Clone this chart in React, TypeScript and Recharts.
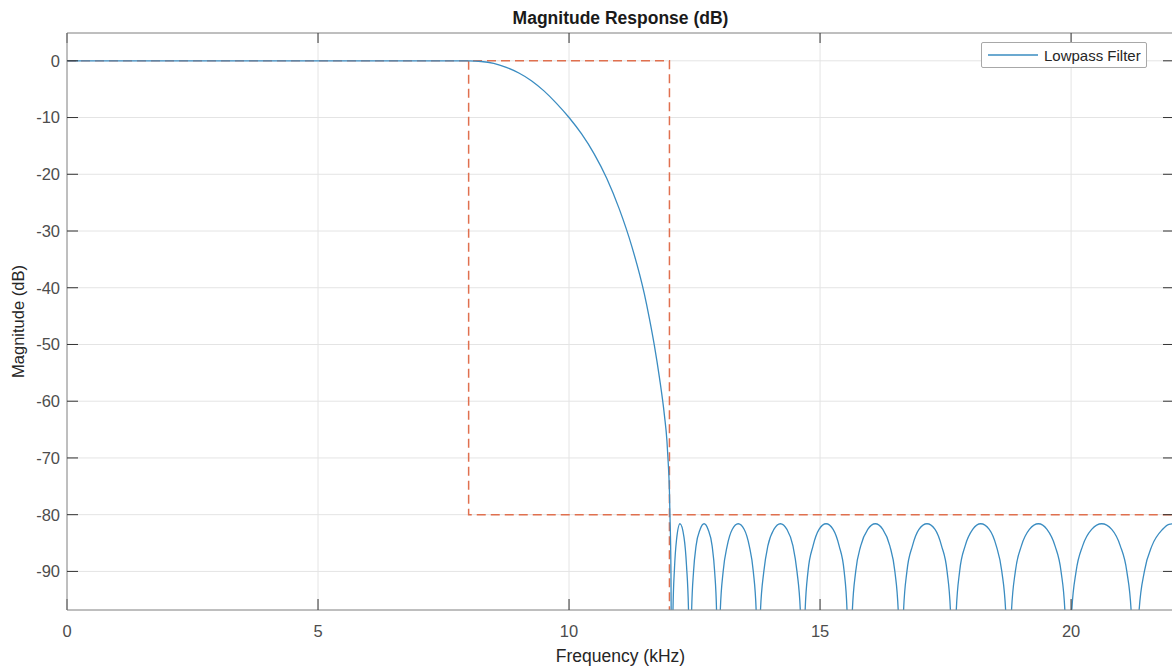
import { LineChart, Line, XAxis, YAxis, CartesianGrid, Legend } from 'recharts'

// passband + transition band (kHz, dB)
const passFreq = [0, 2, 4, 6, 7, 7.6, 8, 8.25, 8.5, 8.75, 9, 9.25, 9.5, 9.75, 10, 10.25, 10.5, 10.75, 11, 11.25, 11.5, 11.6, 11.7, 11.8, 11.9, 11.95, 11.97, 12, 12.01, 12.03, 12.05]
const passDb = [0, 0, 0, 0, 0, -0.01, -0.03, -0.12, -0.45, -1.15, -2.15, -3.5, -5.3, -7.5, -10, -12.9, -16.4, -20.7, -26.1, -32.7, -41.1, -45.4, -50.2, -55.8, -62.5, -67, -70, -76, -80, -90, -125]

// stopband lobes (zeros go off the bottom of the axes)
const stopFreq = [
  12.07, 12.1, 12.14, 12.21, 12.29, 12.34, 12.38, 12.41,
  12.44, 12.48, 12.53, 12.61, 12.69, 12.77, 12.85, 12.9, 12.94, 12.97,
  13.01, 13.07, 13.15, 13.25, 13.37, 13.49, 13.59, 13.67, 13.73, 13.77,
  13.81, 13.88, 13.96, 14.08, 14.21, 14.34, 14.46, 14.54, 14.61, 14.65,
  14.7, 14.76, 14.86, 14.98, 15.12, 15.26, 15.38, 15.48, 15.54, 15.59,
  15.64, 15.71, 15.81, 15.95, 16.1, 16.25, 16.39, 16.49, 16.56, 16.61,
  16.66, 16.73, 16.84, 16.97, 17.13, 17.29, 17.42, 17.53, 17.6, 17.65,
  17.71, 17.78, 17.89, 18.04, 18.2, 18.37, 18.51, 18.62, 18.7, 18.75,
  18.81, 18.89, 19.01, 19.17, 19.35, 19.52, 19.68, 19.8, 19.88, 19.94,
  20.01, 20.1, 20.23, 20.41, 20.61, 20.81, 20.98, 21.11, 21.2, 21.27,
  21.35, 21.46, 21.61, 21.82, 21.95, 22.05,
]
const stopDb = [
  -97, -89.5, -84.5, -81.6, -84, -89, -97, -125,
  -97.5, -90, -85.5, -82.6, -81.6, -82.6, -85.5, -90, -97.5, -125,
  -97.5, -90, -85.5, -82.6, -81.6, -82.6, -85.5, -90, -97.5, -125,
  -97.5, -90, -85.5, -82.6, -81.6, -82.6, -85.5, -90, -97.5, -125,
  -97.5, -90, -85.5, -82.6, -81.6, -82.6, -85.5, -90, -97.5, -125,
  -97.5, -90, -85.5, -82.6, -81.6, -82.6, -85.5, -90, -97.5, -125,
  -97.5, -90, -85.5, -82.6, -81.6, -82.6, -85.5, -90, -97.5, -125,
  -97.5, -90, -85.5, -82.6, -81.6, -82.6, -85.5, -90, -97.5, -125,
  -97.5, -90, -85.5, -82.6, -81.6, -82.6, -85.5, -90, -97.5, -125,
  -97.5, -90, -85.5, -82.6, -81.6, -82.6, -85.5, -90, -97.5, -125,
  -97.5, -90, -85.5, -82.6, -81.7, -81.6,
]

// spec mask (dashed)
const maskUpperFreq = [0, 12, 12]
const maskUpperDb = [0, 0, -120]
const maskLowerFreq = [8, 8, 22.05]
const maskLowerDb = [0, -80, -80]

const xTicks = [0, 5, 10, 15, 20]
const yTicks = [-90, -80, -70, -60, -50, -40, -30, -20, -10, 0]

const zip = (f: number[], v: number[]) => f.map((x, i) => ({ f: x, db: v[i] }))

const responseData = zip([...passFreq, ...stopFreq], [...passDb, ...stopDb])
const maskUpper = zip(maskUpperFreq, maskUpperDb)
const maskLower = zip(maskLowerFreq, maskLowerDb)

const FONT = "'Liberation Sans', Arial, sans-serif"
const LINE = '#3a8cc1'
const MASK = '#e0704f'
const Y_DOMAIN: [number, number] = [-96.8, 4.9]

function LegendBox({ payload }: any) {
  const items = (payload || []).filter((p: any) => p.type !== 'none')
  return (
    <div
      style={{
        border: '1px solid #a8a8a8',
        borderRadius: 2,
        background: '#fff',
        height: 24,
        display: 'flex',
        alignItems: 'center',
        padding: '0 6px',
        whiteSpace: 'nowrap',
        fontFamily: FONT,
        fontSize: 15,
        color: '#262626',
      }}
    >
      {items.map((p: any) => (
        <span key={p.value} style={{ display: 'flex', alignItems: 'center' }}>
          <svg width={50} height={4}>
            <line x1={0} y1={2} x2={50} y2={2} stroke={p.color} strokeWidth={1.3} />
          </svg>
          <span style={{ marginLeft: 6 }}>{p.value}</span>
        </span>
      ))}
    </div>
  )
}

export default function App() {
  const tickStyle = { fontSize: 16.5, fill: '#4d4d4d', fontFamily: FONT }
  return (
    <div style={{ position: 'relative', width: 1172, height: 669, overflow: 'hidden', background: '#fff' }}>
      <style>{'body{margin:0}'}</style>
      <div
        style={{
          position: 'absolute',
          top: 10,
          left: 67,
          width: 1107,
          textAlign: 'center',
          fontFamily: FONT,
          fontWeight: 'bold',
          fontSize: 17.5,
          lineHeight: '17.5px',
          color: '#1a1a1a',
        }}
      >
        Magnitude Response (dB)
      </div>
      <LineChart width={1180} height={669} margin={{ top: 3, right: 5, bottom: 0, left: 0 }}>
        <CartesianGrid stroke="#e4e4e4" strokeWidth={1} />
        <XAxis
          dataKey="f"
          type="number"
          domain={[0, 22.05]}
          ticks={xTicks}
          allowDataOverflow
          height={59}
          tickSize={-11}
          tickMargin={26}
          tick={tickStyle}
          tickLine={{ stroke: '#333' }}
          axisLine={{ stroke: '#8c8c8c' }}
          label={{ value: 'Frequency (kHz)', position: 'insideBottom', offset: 7, style: { fontSize: 17.5, fill: '#262626', fontFamily: FONT } }}
        />
        <XAxis
          xAxisId="top"
          orientation="top"
          dataKey="f"
          type="number"
          domain={[0, 22.05]}
          ticks={xTicks}
          allowDataOverflow
          height={30}
          tickSize={-10}
          tickFormatter={() => ''}
          tickLine={{ stroke: '#333' }}
          axisLine={{ stroke: '#8c8c8c' }}
        />
        <YAxis
          type="number"
          domain={Y_DOMAIN}
          ticks={yTicks}
          allowDataOverflow
          width={67}
          tickSize={-11}
          tickMargin={18}
          tick={tickStyle}
          tickLine={{ stroke: '#333' }}
          axisLine={{ stroke: '#8c8c8c' }}
          label={{ value: 'Magnitude (dB)', angle: -90, position: 'insideLeft', offset: 18, style: { textAnchor: 'middle', fontSize: 16.5, fill: '#262626', fontFamily: FONT } }}
        />
        <YAxis
          yAxisId="right"
          orientation="right"
          type="number"
          domain={Y_DOMAIN}
          ticks={yTicks}
          allowDataOverflow
          width={1}
          tickSize={-11}
          tickFormatter={() => ''}
          tickLine={{ stroke: '#333' }}
          axisLine={{ stroke: '#8c8c8c' }}
        />
        <Legend
          layout="vertical"
          align="center"
          verticalAlign="middle"
          content={<LegendBox />}
          wrapperStyle={{ top: 42, left: 981, width: 166 }}
        />
        <Line
          data={maskUpper}
          dataKey="db"
          type="linear"
          stroke={MASK}
          strokeWidth={1.5}
          strokeDasharray="9 5"
          dot={false}
          legendType="none"
          isAnimationActive={false}
        />
        <Line
          data={maskLower}
          dataKey="db"
          type="linear"
          stroke={MASK}
          strokeWidth={1.5}
          strokeDasharray="9 5"
          dot={false}
          legendType="none"
          isAnimationActive={false}
        />
        <Line
          data={responseData}
          dataKey="db"
          name="Lowpass Filter"
          type="monotone"
          stroke={LINE}
          strokeWidth={1.3}
          dot={false}
          isAnimationActive={false}
        />
      </LineChart>
    </div>
  )
}
